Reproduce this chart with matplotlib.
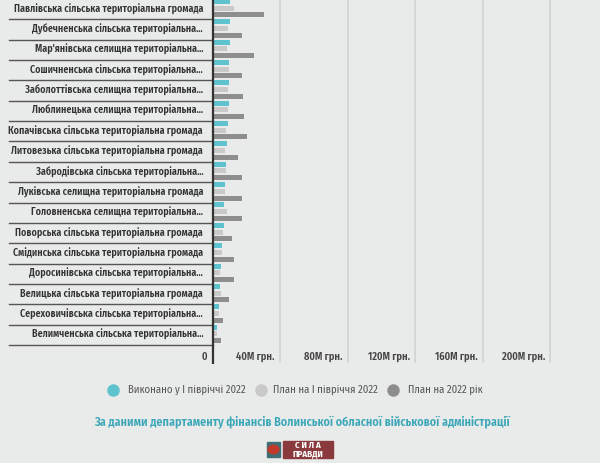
import matplotlib
matplotlib.use("Agg")
import matplotlib.pyplot as plt
import matplotlib.transforms as mtransforms
from matplotlib.patches import Rectangle, Circle
from matplotlib.lines import Line2D
import numpy as np

categories = [
    "Павлівська сільська територіальна громада",
    "Дубечненська сільська територіальна...",
    "Мар'янівська селищна територіальна...",
    "Сошичненська сільська територіальна...",
    "Заболоттівська селищна територіальна...",
    "Люблинецька селищна територіальна...",
    "Копачівська сільська територіальна громада",
    "Литовезька сільська територіальна громада",
    "Забродівська сільська територіальна...",
    "Луківська селищна територіальна громада",
    "Головненська селищна територіальна...",
    "Поворська сільська територіальна громада",
    "Смідинська сільська територіальна громада",
    "Доросинівська сільська територіальна...",
    "Велицька сільська територіальна громада",
    "Сереховичівська сільська територіальна...",
    "Велимченська сільська територіальна...",
]
# values in millions UAH
done_h1 = [10.5, 10.3, 10.3, 9.9, 9.9, 9.9, 9.1, 8.5, 7.9, 7.5, 6.9, 6.9, 5.5, 5.1, 4.5, 4.1, 2.8]
plan_h1 = [13.0, 8.9, 8.5, 9.9, 8.9, 8.9, 7.9, 7.5, 7.9, 7.5, 8.5, 6.1, 5.5, 4.5, 5.1, 4.1, 2.6]
plan_year = [30.6, 17.7, 24.7, 17.2, 18.1, 18.6, 20.5, 15.4, 17.2, 17.7, 17.2, 11.6, 13.0, 12.6, 9.7, 6.5, 5.3]
xticks = [0, 40, 80, 120, 160, 200]
xtick_labels = ["0", "40M грн.", "80M грн.", "120M грн.", "160M грн.", "200M грн."]
series_labels = ["Виконано у І півріччі 2022", "План на І півріччя 2022", "План на 2022 рік"]
colors = ["#5ec3cf", "#c9c9c9", "#8e8e8e"]
source = "За даними департаменту фінансів Волинської обласної військової адміністрації"

W, H = 600, 463
BG = "#e9eaea"
fig = plt.figure(figsize=(W / 100, H / 100), dpi=100, facecolor=BG)
FONT = ["Fira Sans Condensed", "Roboto Condensed", "Barlow Condensed", "DejaVu Sans"]

def fx(px):
    return px / W

def fy(py):
    return 1 - py / H

ax_left, ax_right, ax_top, ax_bot = 212.5, 550, -1, 345
ax = fig.add_axes([fx(ax_left), fy(ax_bot), fx(ax_right - ax_left), (ax_bot - ax_top) / H])
ax.set_facecolor(BG)
n = len(categories)
y = np.arange(n)
h = 0.245
offs = [-0.38, -0.05, 0.28]
for vals, c, o in zip([done_h1, plan_h1, plan_year], colors, offs):
    ax.barh(y + o, vals, height=h, color=c, zorder=3)
ax.set_xlim(0, 200)
ax.set_ylim(n - 0.5, -0.5)
for s in ax.spines.values():
    s.set_visible(False)
ax.set_xticks([])
ax.set_yticks([])

# gridlines (extend below plot)
trans_xd_yf = mtransforms.blended_transform_factory(ax.transData, fig.transFigure)
ax.vlines(xticks[1:], fy(363), fy(ax_top), transform=trans_xd_yf, color="#d3d3d3",
          lw=1.2, zorder=1, clip_on=False)
# axis line
ax.vlines([0], fy(364), fy(ax_top), transform=trans_xd_yf, color="#333333",
          lw=1.6, zorder=4, clip_on=False)
# tick labels
offset = mtransforms.ScaledTranslation(-5 / 100, 0, fig.dpi_scale_trans)
for t, lab in zip(xticks, xtick_labels):
    ax.text(t, fy(357), lab, transform=trans_xd_yf + offset, ha="right", va="center",
            fontsize=7.5, fontweight="semibold", color="#444444", family=FONT)

# row separators and labels
trans_xf_yd = mtransforms.blended_transform_factory(fig.transFigure, ax.transData)
for i, cat in enumerate(categories):
    ax.plot([fx(9), fx(ax_left)], [i + 0.5, i + 0.5], transform=trans_xf_yd,
            color="#555555", lw=1.0, clip_on=False, zorder=2)
    ax.text(fx(203), i, cat, transform=trans_xf_yd, ha="right", va="center",
            fontsize=7.2, fontweight="semibold", color="#333333", family=FONT)

# legend
leg_circle_x = [113, 261, 393]
leg_text_x = [128, 273, 408]
ly = 390
for cx, tx, c, lab in zip(leg_circle_x, leg_text_x, colors, series_labels):
    fig.add_artist(Line2D([fx(cx)], [fy(ly)], marker="o", markersize=9, color=c,
                          markeredgewidth=0, linestyle="none"))
    fig.text(fx(tx), fy(ly), lab, ha="left", va="center", fontsize=7.7,
             color="#555555", family=FONT)

fig.text(fx(302), fy(422), source, ha="center", va="center", fontsize=8.7,
         fontweight="semibold", color="#3aa7b8", family=FONT)

# logo
fig.add_artist(Rectangle((fx(267), fy(457)), fx(13), 15 / H, color="#3f6f74"))
fig.add_artist(Circle((fx(273.5), fy(449.5)), 5.5 / W, color="#c0392b",
                      transform=fig.transFigure))
fig.add_artist(Rectangle((fx(283), fy(458)), fx(50), 17 / H, color="#8a3a3d"))
fig.text(fx(308), fy(445), "С И Л А", ha="center", va="center", fontsize=6.5,
         fontweight="bold", color="white", family=FONT)
fig.text(fx(308), fy(453.5), "ПРАВДИ", ha="center", va="center", fontsize=6.5,
         fontweight="bold", color="white", family=FONT)

fig.savefig("out.png", dpi=100, facecolor=BG)
